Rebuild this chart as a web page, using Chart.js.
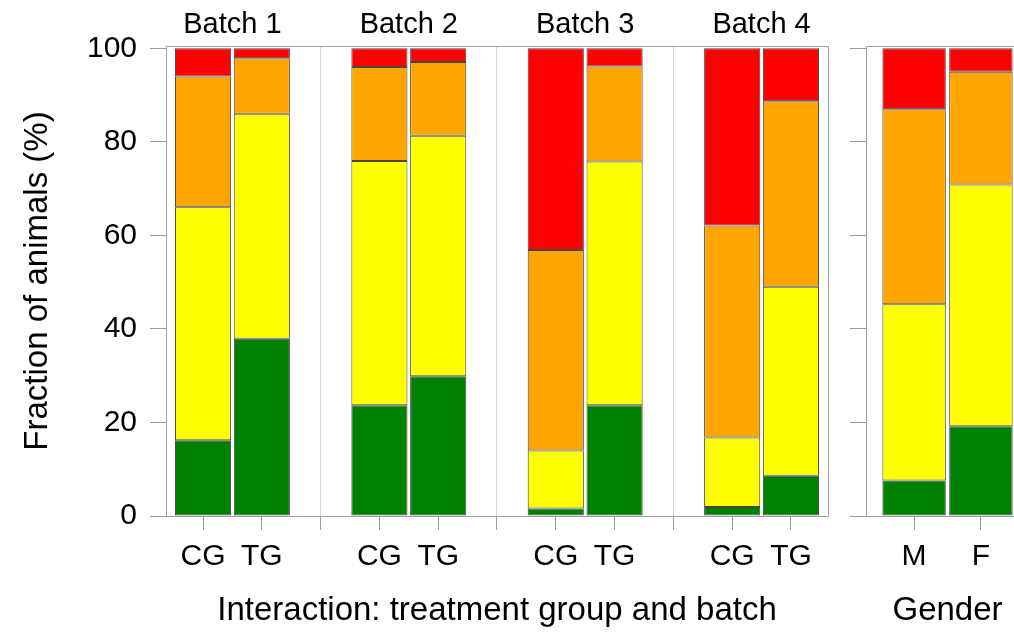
<!DOCTYPE html>
<html>
<head>
<meta charset="utf-8">
<script src="https://cdn.jsdelivr.net/npm/chart.js@4.4.1/dist/chart.umd.min.js"></script>
<style>
  html, body { margin: 0; padding: 0; overflow: hidden; background: #fff; width: 1014px; height: 635px; }
  #wrap { position: relative; width: 1014px; height: 635px; overflow: hidden; }
  canvas { position: absolute; top: 0; }
  #cMain { left: 0; }
  #cGender { left: 840px; }
</style>
</head>
<body>
<div id="wrap">
  <canvas id="cMain" width="840" height="635"></canvas>
  <canvas id="cGender" width="200" height="635"></canvas>
</div>
<script>
// Treatment group x batch: one slot per bar, empty slots separate the batches
const groupLabels = ['CG', 'TG', '', 'CG', 'TG', '', 'CG', 'TG', '', 'CG', 'TG'];
const batchLabels = ['Batch 1', 'Batch 2', 'Batch 3', 'Batch 4'];
const batchCenters = [0.5, 3.5, 6.5, 9.5];

// Share of animals (%) in each category, bottom to top
const greenShare  = [16.2, 37.9, null, 23.7, 29.9, null,  1.6, 23.7, null,  1.9,  8.6];
const yellowShare = [49.8, 48.1, null, 52.2, 51.4, null, 12.4, 52.1, null, 14.9, 40.4];
const orangeShare = [28.0, 11.9, null, 20.1, 15.8, null, 42.9, 20.3, null, 45.3, 39.7];
const redShare    = [ 6.0,  2.1, null,  4.0,  2.9, null, 43.1,  3.9, null, 37.9, 11.3];

// Gender panel
const genderLabels = ['M', 'F'];
const genderGreen  = [ 7.6, 19.2];
const genderYellow = [37.7, 51.7];
const genderOrange = [41.7, 24.1];
const genderRed    = [13.0,  5.0];

const yTicks = [0, 20, 40, 60, 80, 100];

const FONT = "'Liberation Sans', Arial, Helvetica, sans-serif";
const TICK_SIZE = 30;
const TITLE_SIZE = 33;
Chart.defaults.font.family = FONT;
Chart.defaults.font.size = TICK_SIZE;
Chart.defaults.color = '#000';

const COLORS = { green: '#008000', yellow: '#FFFF00', orange: '#FFA500', red: '#FF0000' };
const EDGE = 'rgba(0,0,0,0.72)';
const BOX = '#a3a3a3';
const TICK = '#9a9a9a';
const SEP = '#d2d2d2';

function points(values) {
  return values.map((v, i) => ({ x: i, y: v })).filter(p => p.y !== null);
}

function datasets(g, y, o, r, barPct) {
  const base = { borderColor: EDGE, borderWidth: 1, borderSkipped: false,
                 categoryPercentage: 1, barPercentage: barPct };
  return [
    Object.assign({ label: 'Green',  data: points(g), backgroundColor: COLORS.green }, base),
    Object.assign({ label: 'Yellow', data: points(y), backgroundColor: COLORS.yellow }, base),
    Object.assign({ label: 'Orange', data: points(o), backgroundColor: COLORS.orange }, base),
    Object.assign({ label: 'Red',    data: points(r), backgroundColor: COLORS.red }, base)
  ];
}

// Frame round the plotting region
const framePlugin = {
  id: 'frame',
  afterDraw(chart) {
    const { ctx, chartArea: a } = chart;
    ctx.save();
    ctx.strokeStyle = BOX;
    ctx.lineWidth = 1;
    ctx.strokeRect(Math.round(a.left) + 0.5, Math.round(a.top) + 0.5,
                   Math.round(a.right - a.left), Math.round(a.bottom - a.top));
    ctx.restore();
  }
};

// Batch names above each pair of bars
const batchPlugin = {
  id: 'batchNames',
  afterDraw(chart) {
    const { ctx } = chart;
    const xs = chart.scales.x;
    ctx.save();
    ctx.font = '29px ' + FONT;
    ctx.fillStyle = '#000';
    ctx.textAlign = 'center';
    ctx.textBaseline = 'alphabetic';
    batchLabels.forEach((name, i) => {
      ctx.fillText(name, xs.getPixelForValue(batchCenters[i]), 33);
    });
    ctx.restore();
  }
};

function yScale(showLabels, width) {
  return {
    type: 'linear', stacked: true, min: 0, max: 100.5,
    afterBuildTicks(s) { s.ticks = yTicks.map(v => ({ value: v })); },
    afterFit(s) { s.width = width; },
    border: { display: false },
    grid: { drawOnChartArea: false, tickLength: 16, tickColor: TICK, tickWidth: 1 },
    ticks: { display: showLabels, padding: 13 },
    title: showLabels
      ? { display: true, text: 'Fraction of animals (%)', padding: { top: 18, bottom: 0 }, font: { size: TITLE_SIZE } }
      : { display: false }
  };
}

function xScale(labels, min, max, title, isSeparator) {
  return {
    type: 'linear', stacked: true, min: min, max: max,
    offset: false,
    afterBuildTicks(s) { s.ticks = labels.map((_, i) => ({ value: i })); },
    afterFit(s) { s.height = 119; },
    border: { display: false },
    grid: {
      offset: false,
      drawOnChartArea: true,
      tickLength: 14,
      color: ctx => (ctx.tick && isSeparator(ctx.tick.value)) ? SEP : 'rgba(0,0,0,0)',
      tickColor: TICK,
      lineWidth: 1
    },
    ticks: {
      autoSkip: false, maxRotation: 0, minRotation: 0, padding: 9,
      callback: v => labels[v] !== undefined ? labels[v] : ''
    },
    title: { display: true, text: title, padding: { top: 0, bottom: 4 }, font: { size: TITLE_SIZE } }
  };
}

const common = {
  responsive: false,
  animation: false,
  devicePixelRatio: 1,
  plugins: { legend: { display: false }, tooltip: { enabled: false } }
};

new Chart(document.getElementById('cMain'), {
  type: 'bar',
  data: { datasets: datasets(greenShare, yellowShare, orangeShare, redShare, 0.955) },
  options: Object.assign({}, common, {
    layout: { padding: { top: 46, right: 12, left: 0, bottom: 0 } },
    scales: {
      x: xScale(groupLabels, -0.63, 10.63, 'Interaction: treatment group and batch',
                v => groupLabels[v] === ''),
      y: yScale(true, 166)
    }
  }),
  plugins: [framePlugin, batchPlugin]
});

new Chart(document.getElementById('cGender'), {
  type: 'bar',
  data: { datasets: datasets(genderGreen, genderYellow, genderOrange, genderRed, 0.95) },
  options: Object.assign({}, common, {
    layout: { padding: { top: 46, right: 11, left: 0, bottom: 0 } },
    scales: {
      x: xScale(genderLabels, -0.72, 1.72, 'Gender', () => false),
      y: yScale(false, 26)
    }
  }),
  plugins: [framePlugin]
});
</script>
</body>
</html>
